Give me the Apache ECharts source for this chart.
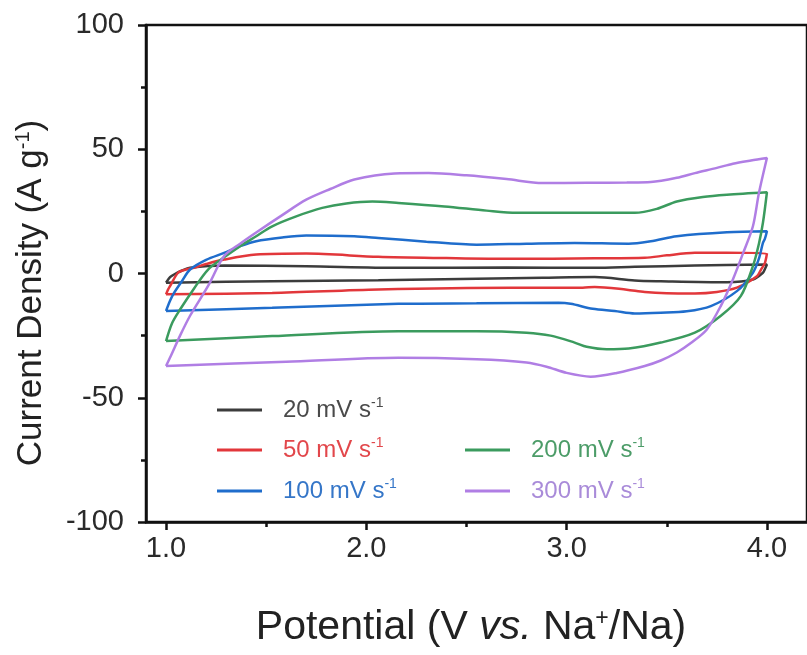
<!DOCTYPE html>
<html>
<head>
<meta charset="utf-8">
<script src="https://cdn.jsdelivr.net/npm/echarts@6/dist/echarts.min.js"></script>
<style>
  html, body { margin: 0; padding: 0; background: #fff; }
  #main { width: 807px; height: 655px; }
</style>
</head>
<body>
<div id="main"></div>
<script>
// scan rates (legend names)
const names = ['20 mV s-1', '50 mV s-1', '100 mV s-1', '200 mV s-1', '300 mV s-1'];
const colors = ['#3c3c3c', '#e2373b', '#1f6dcc', '#3b9b5e', '#b07ee4'];
const textColors = ['#4a4a4a', '#e2474b', '#3576c8', '#4c9c68', '#a98bd9'];

// each loop: anodic sweep 1.0 -> 4.0 (upper branch), then cathodic back to 1.0
const v20 = [1.0, 1.02, 1.04, 1.08, 1.12, 1.29, 1.70, 2.16, 2.70, 3.14, 3.34, 3.64, 4.0,
             3.99, 3.98, 3.93, 3.80, 3.47, 3.34, 3.14, 2.88, 2.06, 1.53, 1.0];
const j20 = [-3.7, -1.5, -0.4, 1.2, 2.3, 3.2, 2.9, 2.3, 2.4, 2.3, 2.7, 3.2, 3.6,
             1.8, 0.3, -2.4, -3.5, -3.1, -2.8, -1.4, -1.7, -2.7, -3.1, -3.7];

const v50 = [1.0, 1.01, 1.02, 1.06, 1.10, 1.14, 1.20, 1.29, 1.45, 1.70, 2.06, 2.40, 2.72, 3.14, 3.39, 3.50, 3.64, 3.80, 4.0,
             3.99, 3.97, 3.95, 3.85, 3.75, 3.64, 3.50, 3.39, 3.30, 3.14, 3.08, 2.72, 2.06, 1.53, 1.0];
const j50 = [-8.4, -6.5, -5.1, 0.3, 1.6, 2.3, 3.8, 5.6, 7.6, 8.0, 6.7, 6.2, 5.9, 6.1, 6.3, 7.3, 8.3, 8.4, 8.0,
             4.3, 1.5, -1.1, -5.7, -7.4, -8.0, -7.9, -7.4, -6.5, -5.4, -5.7, -5.7, -6.4, -7.8, -8.4];

const v100 = [1.0, 1.02, 1.04, 1.08, 1.12, 1.20, 1.29, 1.37, 1.45, 1.58, 1.70, 1.94, 2.06, 2.30, 2.55, 2.80, 3.04, 3.31, 3.42, 3.55, 3.80, 4.0,
              3.99, 3.98, 3.96, 3.93, 3.85, 3.72, 3.60, 3.47, 3.34, 3.24, 3.13, 3.02, 2.96, 2.55, 2.16, 1.53, 1.0];
const j100 = [-15.1, -11, -7.8, -3, 1.6, 5.5, 8.3, 11, 13, 14.5, 15.3, 15, 14.3, 12.8, 11.6, 12, 12.3, 12, 13, 15, 16.6, 17,
              14, 12.3, 6, 0.3, -7.1, -13.1, -15.2, -15.8, -16.1, -15.1, -14.2, -12.2, -11.8, -12, -12.2, -13.8, -15.1];

const v200 = [1.0, 1.03, 1.07, 1.14, 1.21, 1.29, 1.37, 1.45, 1.53, 1.65, 1.78, 1.90, 2.03, 2.16, 2.39, 2.60, 2.75, 3.04, 3.34, 3.45, 3.55, 3.68, 3.80, 4.0,
              3.98, 3.96, 3.93, 3.87, 3.77, 3.64, 3.47, 3.31, 3.20, 3.10, 3.04, 2.92, 2.80, 2.55, 2.16, 1.53, 1.0];
const j200 = [-27.2, -20, -14.5, -6, 1.6, 6.5, 11, 15, 19, 23, 26.4, 28.2, 29, 28.4, 27, 25.3, 24.4, 24.4, 24.4, 26, 29, 30.8, 31.7, 32.7,
              20.4, 12, 3, -9, -17, -23.8, -27.8, -30.2, -30.5, -29.5, -27.8, -25, -23.8, -23.2, -23.2, -25.2, -27.2];

const v300 = [1.0, 1.025, 1.07, 1.12, 1.21, 1.29, 1.37, 1.45, 1.58, 1.70, 1.82, 1.94, 2.14, 2.31, 2.50, 2.70, 2.88, 3.10, 3.30, 3.42, 3.55, 3.64, 3.75, 3.83, 3.92, 4.0,
              3.96, 3.93, 3.88, 3.83, 3.77, 3.70, 3.62, 3.55, 3.47, 3.39, 3.25, 3.12, 3.00, 2.90, 2.80, 2.55, 2.16, 1.60, 1.0];
const j300 = [-37.2, -33, -25, -17, -5, 7, 12, 16.5, 23.5, 29.7, 34, 37.8, 40.2, 40.4, 39.5, 38, 36.4, 36.5, 36.6, 36.8, 38.5, 40.4, 42.5, 44.2, 45.5, 46.5,
              32.4, 19, 8, -2.4, -13, -22.5, -28, -31.8, -35, -37.2, -40, -41.5, -40, -37.5, -35.8, -34.5, -33.9, -35.5, -37.2];

const loopsV = [v20, v50, v100, v200, v300];
const loopsJ = [j20, j50, j100, j200, j300];

// axis ticks
const xMajor = [1, 2, 3, 4];
const xMinor = [1.5, 2.5, 3.5];

const font = 'Liberation Sans, Arial, sans-serif';

let myChart = echarts.init(document.getElementById('main'));

let series = names.map(function (n, k) {
  return {
    name: n,
    type: 'line',
    smooth: 0.3,
    showSymbol: false,
    symbol: 'none',
    clip: false,
    z: 2 + k,
    lineStyle: { width: 2.5, color: colors[k] },
    itemStyle: { color: colors[k] },
    data: loopsV[k].map(function (v, i) { return [v, loopsJ[k][i]]; })
  };
});

// legend positions: [line left, row centre]
const legendPos = [[212, 405], [212, 445], [212, 486], [460, 445], [460, 486]];
let legends = names.map(function (n, k) {
  return {
    selectedMode: false,
    left: legendPos[k][0],
    top: legendPos[k][1] - 14,
    icon: 'rect',
    itemWidth: 45,
    itemHeight: 3,
    itemGap: 0,
    data: [{ name: n, textStyle: { color: textColors[k] } }],
    formatter: function (name) { return name.replace('s-1', 's{sup|-1}'); },
    textStyle: {
      fontFamily: font,
      fontSize: 24,
      lineHeight: 28,
      padding: [0, 0, 0, 16],
      rich: { sup: { fontSize: 14, verticalAlign: 'top', lineHeight: 28, padding: [0, 0, 10, 0] } }
    }
  };
});

let option = {
  animation: false,
  backgroundColor: '#fff',
  grid: {
    left: 146, top: 25, right: -7, bottom: 133,
    show: true, borderColor: '#111', borderWidth: 2.5, backgroundColor: 'transparent'
  },
  legend: legends,
  xAxis: [
    {
      type: 'value', min: 0.9, max: 4.2,
      axisLine: { onZero: false, lineStyle: { color: '#111', width: 2.5 } },
      axisTick: { customValues: xMajor, length: 8, lineStyle: { color: '#111', width: 2.5 } },
      axisLabel: {
        customValues: xMajor, margin: 12, fontSize: 29, fontFamily: font, color: '#2a2a2a',
        formatter: function (v) { return v.toFixed(1); }
      },
      splitLine: { show: false }
    },
    {
      type: 'value', min: 0.9, max: 4.2, position: 'bottom',
      axisLine: { show: false, onZero: false },
      axisTick: { customValues: xMinor, length: 5, lineStyle: { color: '#111', width: 2.5 } },
      axisLabel: { show: false },
      splitLine: { show: false }
    }
  ],
  yAxis: {
    type: 'value', min: -100, max: 100, interval: 50,
    axisLine: { show: true, lineStyle: { color: '#111', width: 2.5 } },
    axisTick: { show: true, length: 8, lineStyle: { color: '#111', width: 2.5 } },
    minorTick: { show: true, splitNumber: 2, length: 5, lineStyle: { color: '#111', width: 2.5 } },
    axisLabel: { margin: 22, fontSize: 29, fontFamily: font, color: '#2a2a2a' },
    splitLine: { show: false }
  },
  graphic: [
    {
      type: 'text', x: 31, y: 293, rotation: Math.PI / 2,
      style: {
        text: 'Current Density (A g{sup|-1})',
        fontFamily: font, fontSize: 35, fill: '#222',
        align: 'center', verticalAlign: 'middle',
        rich: { sup: { fontSize: 20, verticalAlign: 'top', padding: [0, 0, 15, 0] } }
      }
    },
    {
      type: 'text', x: 471, y: 628,
      style: {
        text: 'Potential (V {i|vs.} Na{sup|+}/Na)',
        fontFamily: font, fontSize: 41, fill: '#222',
        align: 'center', verticalAlign: 'middle',
        rich: {
          i: { fontStyle: 'italic', fontSize: 41 },
          sup: { fontSize: 23, verticalAlign: 'top', padding: [0, 0, 18, 0] }
        }
      }
    }
  ],
  series: series
};

myChart.setOption(option);
</script>
</body>
</html>
